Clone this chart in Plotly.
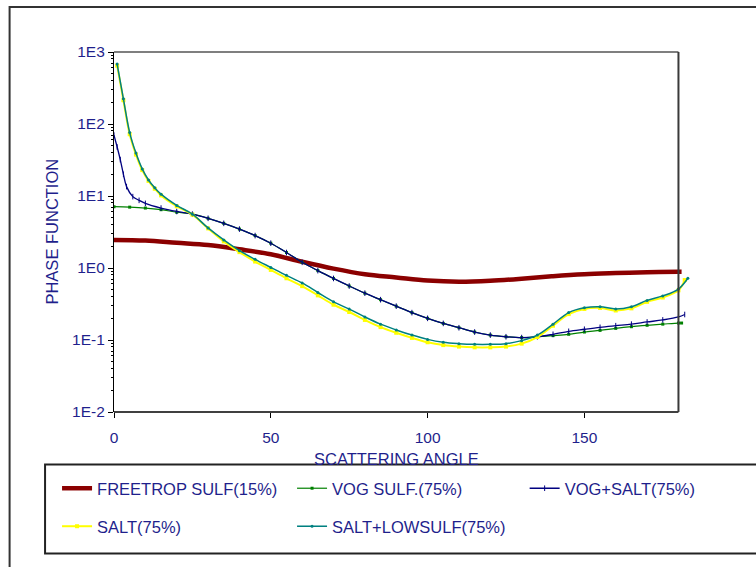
import plotly.graph_objects as go

# ---------------- data ----------------
red_angle = [0, 10, 20, 30, 40, 50, 60, 70, 80, 90, 100, 110, 120, 130, 140, 150, 160, 170, 180, 181]
red_vals = [2.45, 2.40, 2.24, 2.09, 1.82, 1.55, 1.22, 0.98, 0.82, 0.74, 0.67, 0.645, 0.665, 0.71, 0.77, 0.82, 0.85, 0.875, 0.89, 0.89]

vog_angle = [0, 5, 10, 15, 20, 25, 30, 35, 40, 45, 50, 55, 60, 65, 70, 75, 80, 85, 90, 95, 100,
             105, 110, 115, 120, 125, 130, 135, 140, 145, 150, 155, 160, 165, 170, 175, 180, 181]
vog_vals = [7.1, 7.0, 6.8, 6.45, 5.95, 5.6, 4.9, 4.17, 3.47, 2.82, 2.21, 1.64, 1.2, 0.92, 0.716, 0.562, 0.447,
            0.363, 0.295, 0.24, 0.20, 0.17, 0.148, 0.129, 0.117, 0.111, 0.108, 0.111, 0.115, 0.12, 0.129,
            0.136, 0.145, 0.153, 0.16, 0.166, 0.172, 0.172]

vogsalt_angle = [0, 1, 2, 3, 4, 6, 8, 10, 15, 20, 25, 30, 35, 40, 45, 50, 55, 60, 65, 70, 75, 80, 85, 90,
                 95, 100, 105, 110, 115, 120, 125, 130, 135, 140, 145, 150, 155, 160, 165, 170, 175, 180, 182]
vogsalt_vals = [70, 48, 32, 20, 13.5, 9.8, 8.7, 7.9, 6.8, 6.1, 5.6, 4.9, 4.17, 3.47, 2.82, 2.21, 1.64, 1.2,
                0.92, 0.716, 0.562, 0.447, 0.363, 0.295, 0.24, 0.20, 0.17, 0.148, 0.129, 0.117, 0.111, 0.108,
                0.111, 0.12, 0.132, 0.141, 0.15, 0.158, 0.166, 0.178, 0.19, 0.209, 0.226]

salt_angle = [1, 3, 5, 7, 9, 11, 13, 15, 20, 25, 30, 35, 40, 45, 50, 55, 60, 65, 70, 75, 80, 85, 90, 95,
              100, 105, 110, 115, 120, 125, 130, 135, 140, 145, 150, 155, 160, 165, 170, 175, 180, 182]
salt_vals = [646, 214, 72, 37.6, 22.9, 16.2, 12.6, 10.2, 7.2, 5.5, 3.55, 2.34, 1.66, 1.23, 0.94, 0.72, 0.56,
             0.417, 0.309, 0.245, 0.19, 0.151, 0.126, 0.107, 0.093, 0.085, 0.081, 0.079, 0.079, 0.081, 0.089,
             0.11, 0.158, 0.229, 0.27, 0.279, 0.257, 0.275, 0.339, 0.389, 0.49, 0.68]

saltlow_angle = [1, 3, 5, 7, 9, 11, 13, 15, 20, 25, 30, 35, 40, 45, 50, 55, 60, 65, 70, 75, 80, 85, 90, 95,
                 100, 105, 110, 115, 120, 125, 130, 135, 140, 145, 150, 155, 160, 165, 170, 175, 180, 183]
saltlow_vals = [681, 224, 76, 39.4, 23.8, 16.7, 13.0, 10.6, 7.4, 5.6, 3.6, 2.45, 1.74, 1.32, 1.02, 0.79, 0.62,
                0.457, 0.339, 0.269, 0.209, 0.166, 0.138, 0.117, 0.102, 0.093, 0.089, 0.087, 0.087, 0.089, 0.098,
                0.117, 0.166, 0.24, 0.28, 0.29, 0.27, 0.29, 0.355, 0.41, 0.51, 0.72]

x_ticks = [0, 50, 100, 150]
y_ticks = [0.01, 0.1, 1, 10, 100, 1000]
y_ticktext = ["1E-2", "1E-1", "1E0", "1E1", "1E2", "1E3"]

# ---------------- styling ----------------
NAVY_TXT = "#1f1f8c"
FONT = "Liberation Sans, Arial, sans-serif"
W, H = 756, 567
L, R, T, B = 114, 64.5, 52, 155
PW = W - L - R
PH = H - T - B
XMAX = 184


def px2paper_x(px):
    return (px - L) / PW


def px2paper_y(py):
    return (H - B - py) / PH


fig = go.Figure()
fig.add_trace(go.Scatter(x=red_angle, y=red_vals, name="FREETROP SULF(15%)", mode="lines",
                         line=dict(color="#8B0000", width=4.5, shape="spline"), legend="legend"))
fig.add_trace(go.Scatter(x=vog_angle, y=vog_vals, name="VOG SULF.(75%)", mode="lines+markers",
                         line=dict(color="#008000", width=1.2, shape="spline"),
                         marker=dict(symbol="square", size=3, color="#008000"), legend="legend"))
fig.add_trace(go.Scatter(x=vogsalt_angle, y=vogsalt_vals, name="VOG+SALT(75%)", mode="lines+markers",
                         line=dict(color="#000080", width=1.3, shape="spline"),
                         marker=dict(symbol="line-ns", size=4, line=dict(color="#000080", width=1)),
                         legend="legend3"))
fig.add_trace(go.Scatter(x=salt_angle, y=salt_vals, name="SALT(75%)", mode="lines+markers",
                         line=dict(color="#FFFF00", width=2, shape="spline"),
                         marker=dict(symbol="square", size=4, color="#FFFF00"), legend="legend2"))
fig.add_trace(go.Scatter(x=saltlow_angle, y=saltlow_vals, name="SALT+LOWSULF(75%)", mode="lines+markers",
                         line=dict(color="#008080", width=1.5, shape="spline"),
                         marker=dict(symbol="circle", size=3, color="#008080"), legend="legend2"))

minor_vals = [m * 10 ** k for k in range(-2, 3) for m in range(2, 10)]

shapes = [
    # plot frame (top, bottom, right)
    dict(type="line", xref="x", yref="paper", x0=0, x1=180, y0=1, y1=1, line=dict(color="black", width=1.2)),
    dict(type="line", xref="x", yref="paper", x0=0, x1=180, y0=0, y1=0, line=dict(color="black", width=1.5)),
    dict(type="line", xref="x", yref="paper", x0=180, x1=180, y0=0, y1=1, line=dict(color="#3a3a3a", width=2)),
    # legend box
    dict(type="rect", xref="paper", yref="paper", x0=px2paper_x(45), x1=px2paper_x(780),
         y0=px2paper_y(464.5), y1=px2paper_y(553.5), line=dict(color="#222222", width=2)),
    # outer frame
    dict(type="rect", xref="paper", yref="paper", x0=px2paper_x(9.5), x1=px2paper_x(790),
         y0=px2paper_y(7), y1=px2paper_y(600), line=dict(color="#333333", width=2)),
]

annotations = [
    dict(text="PHASE FUNCTION", xref="paper", yref="paper", x=px2paper_x(51.5), y=0.5, textangle=-90,
         showarrow=False, font=dict(size=16.5, color=NAVY_TXT, family=FONT), xanchor="center", yanchor="middle"),
    dict(text="SCATTERING ANGLE", xref="paper", yref="paper", x=px2paper_x(396.5), y=px2paper_y(458.5),
         showarrow=False, font=dict(size=16.5, color=NAVY_TXT, family=FONT), xanchor="center", yanchor="middle"),
]

legend_common = dict(orientation="h", xanchor="left", yanchor="top",
                     bgcolor="rgba(0,0,0,0)", font=dict(size=16.5, color=NAVY_TXT, family=FONT))

fig.update_layout(
    width=W, height=H,
    margin=dict(l=L, r=R, t=T, b=B),
    paper_bgcolor="white", plot_bgcolor="white",
    font=dict(family=FONT, color=NAVY_TXT, size=16),
    xaxis=dict(range=[0, XMAX], showline=False, showgrid=False, zeroline=False,
               tickmode="array", tickvals=x_ticks, ticks="outside", ticklen=5, tickcolor="black",
               ticklabelstandoff=6, tickfont=dict(size=15.5, color=NAVY_TXT)),
    yaxis=dict(type="log", range=[-2, 3], showline=True, linecolor="black", linewidth=1.2,
               showgrid=False, zeroline=False, tickmode="array", tickvals=y_ticks, ticktext=y_ticktext,
               ticks="outside", ticklen=5, tickcolor="black", tickfont=dict(size=15.5, color=NAVY_TXT),
               minor=dict(tickmode="array", tickvals=minor_vals, ticks="outside", ticklen=2,
                          tickcolor="black", showgrid=False)),
    showlegend=True,
    legend=dict(x=px2paper_x(57), y=px2paper_y(471), entrywidth=190, entrywidthmode="pixels", **legend_common),
    legend2=dict(x=px2paper_x(57), y=px2paper_y(509), entrywidth=190, entrywidthmode="pixels", **legend_common),
    legend3=dict(x=px2paper_x(525), y=px2paper_y(471), **legend_common),
    shapes=shapes,
    annotations=annotations,
)

fig.write_html("out.html", config={"displayModeBar": False},
               post_script="document.body.style.margin='0';")
